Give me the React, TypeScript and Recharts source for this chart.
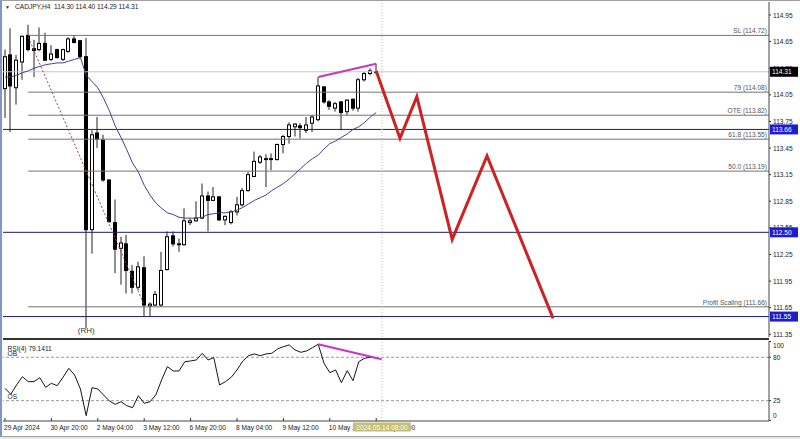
import { Bar, ComposedChart, Line, ReferenceDot, ReferenceLine, XAxis, YAxis } from "recharts";

// H4 candles, bar index 0..64
const opens = [
  114.12, 114.5, 114.13, 114.42, 114.72, 114.57, 114.56, 114.63, 114.45, 114.56,
  114.45, 114.54, 114.68, 114.66, 114.48, 112.53, 113.62, 113.54, 113.09, 112.61,
  112.32, 112.37, 112.06, 111.88, 112.1, 111.67, 111.68, 111.68, 112.08, 112.46,
  112.36, 112.36, 112.61, 112.63, 112.66, 112.91, 112.86, 112.9, 112.64, 112.61,
  112.73, 112.81, 112.97, 113.13, 113.29, 113.33, 113.32, 113.32, 113.49, 113.58,
  113.69, 113.7, 113.65, 113.73, 113.77, 114.14, 113.97, 113.9, 113.97, 113.86,
  114.0, 113.9, 114.22, 114.29, 114.3
];
const highs = [
  114.56, 114.8, 114.5, 114.72, 114.84, 114.67, 114.81, 114.75, 114.61, 114.57,
  114.57, 114.7, 114.72, 114.67, 114.69, 113.65, 113.8, 113.6, 113.1, 112.87,
  112.45, 112.47, 112.13, 112.17, 112.23, 111.71, 111.84, 112.28, 112.51, 112.51,
  112.43, 112.77, 112.66, 112.85, 113.05, 112.96, 113.01, 112.9, 112.69, 112.75,
  112.9, 113.0, 113.18, 113.41, 113.37, 113.38, 113.39, 113.5, 113.6, 113.74,
  113.73, 113.73, 113.8, 113.82, 114.25, 114.14, 113.99, 113.97, 113.98, 114.0,
  114.01, 114.24, 114.31, 114.35, 114.4
];
const lows = [
  113.79, 113.63, 113.94, 114.22, 114.54, 114.25, 114.54, 114.43, 114.43, 114.46,
  114.43, 114.52, 114.63, 114.46, 111.42, 112.26, 113.45, 113.07, 112.61, 112.04,
  111.91, 111.81, 111.81, 111.85, 111.55, 111.55, 111.67, 111.66, 112.07, 112.34,
  112.28, 112.35, 112.58, 112.62, 112.65, 112.51, 112.85, 112.63, 112.58, 112.59,
  112.69, 112.79, 112.96, 113.12, 113.27, 113.01, 113.2, 113.31, 113.39, 113.5,
  113.58, 113.56, 113.62, 113.63, 113.75, 113.95, 113.88, 113.86, 113.65, 113.82,
  113.87, 113.86, 114.2, 114.27, 114.29
];
const closes = [
  114.48, 114.15, 114.44, 114.71, 114.56, 114.55, 114.63, 114.44, 114.51, 114.47,
  114.56, 114.68, 114.64, 114.48, 112.53, 113.6, 113.55, 113.09, 112.62, 112.31,
  112.38, 112.07, 111.88, 112.11, 111.68, 111.69, 111.8, 112.07, 112.45, 112.37,
  112.37, 112.63, 112.63, 112.66, 112.91, 112.86, 112.9, 112.64, 112.68, 112.73,
  112.81, 112.97, 113.15, 113.3, 113.35, 113.32, 113.33, 113.49, 113.58, 113.71,
  113.72, 113.68, 113.71, 113.8, 114.15, 113.97, 113.92, 113.95, 113.85, 113.99,
  113.9, 114.22, 114.29, 114.32, 114.31
];
const maValues = [
  114.25, 114.25, 114.27, 114.3, 114.32, 114.35, 114.37, 114.39, 114.4, 114.41,
  114.41, 114.43, 114.45, 114.47, 114.27, 114.2, 114.13, 114.01, 113.87, 113.7,
  113.57, 113.43, 113.28, 113.18, 113.03, 112.92, 112.83, 112.77, 112.72, 112.7,
  112.67, 112.66, 112.66, 112.66, 112.67, 112.7, 112.71, 112.72, 112.72, 112.73,
  112.75, 112.78, 112.82, 112.86, 112.89, 112.92, 112.97, 113.01, 113.05, 113.1,
  113.16, 113.22, 113.28, 113.33, 113.37, 113.44, 113.5, 113.53, 113.57, 113.61,
  113.66, 113.69, 113.74, 113.8, 113.85
];
const rsiValues = [
  40.7, 33.1, 44.9, 55.4, 49.1, 49.1, 54.1, 41.9, 47.0, 44.0,
  54.6, 66.0, 57.5, 39.8, 6.0, 41.4, 39.8, 32.2, 24.6, 20.4,
  23.7, 18.6, 16.1, 31.3, 21.7, 23.7, 32.2, 51.2, 68.1, 62.6,
  62.6, 74.4, 75.3, 76.6, 85.0, 76.6, 79.5, 44.9, 49.1, 54.6,
  63.9, 75.3, 82.0, 84.2, 82.0, 84.2, 85.0, 90.5, 93.4, 95.6,
  89.2, 86.3, 88.0, 92.1, 96.4, 72.4, 60.5, 63.9, 47.8, 63.0,
  50.3, 74.4, 78.7, 80.0, 79.14
];

// projected path
const forecastIdx = [64, 68.1, 71.0, 77.1, 83.1, 94.5];
const forecastPrice = [114.32, 113.56, 114.03, 112.42, 113.36, 111.53];

const fibLevels = [114.72, 114.08, 113.82, 113.55, 113.19, 111.66];
const fibNames = ["SL (114.72)", "79 (114.08)", "OTE (113.82)", "61.8 (113.55)", "50.0 (113.19)", "Profit Scaling (111.66)"];
const blueLevels = [113.66, 112.5, 111.55];
const lastPrice = 114.31;

const priceTicks = [114.95, 114.65, 114.35, 114.05, 113.75, 113.45, 113.15, 112.85, 112.55, 112.25, 111.95, 111.65, 111.35];
const rsiTicks = [100, 80, 25, 0];
const timeTicks = [0, 8, 16, 24, 32, 40, 48, 56, 64];
const timeLabels = ["29 Apr 2024", "30 Apr 20:00", "2 May 04:00", "3 May 12:00", "6 May 20:00", "8 May 04:00", "9 May 12:00", "10 May 20:00", "14 May 04:00"];
const cursorIndex = 65;
const cursorLabel = "2024.05.14 08:00";

const xDomain: [number, number] = [-0.345, 131.72];
const priceDomain: [number, number] = [111.3198, 115.0966];
const rsiDomain: [number, number] = [-0.76, 100.6];
const fibStart = 4;

const candles = opens.map((open, i) => ({
  i,
  open,
  high: highs[i],
  low: lows[i],
  close: closes[i],
  range: [lows[i], highs[i]],
  ma: maValues[i]
}));
const rsiData = rsiValues.map((rsi, i) => ({ i, rsi }));
const forecast = forecastIdx.map((i, k) => ({ i, price: forecastPrice[k] }));

const boxColors: Record<string, string> = {
  "114.31": "#000000",
  "113.66": "#1c1cd0",
  "112.50": "#1c1cd0",
  "111.55": "#1c1cd0"
};

const fontFamily = "'Liberation Sans', Arial, sans-serif";
const fs = 6.6;

function Candle(props: any) {
  const { x, y, width, height, payload } = props;
  if (!payload || y == null || height == null) return null;
  const top = Math.min(y, y + height);
  const h = Math.abs(height);
  const span = payload.high - payload.low;
  const k = span > 0 ? h / span : 0;
  const yOf = (v: number) => top + (payload.high - v) * k;
  const cx = Math.round(x + width / 2);
  const bodyTop = yOf(Math.max(payload.open, payload.close));
  const bodyBot = yOf(Math.min(payload.open, payload.close));
  const up = payload.close >= payload.open;
  return (
    <g>
      <line x1={cx} x2={cx} y1={top} y2={top + h} stroke="#222" strokeWidth={1} />
      <rect
        x={cx - 1.5}
        y={bodyTop}
        width={3}
        height={Math.max(0.8, bodyBot - bodyTop)}
        fill={up ? "#ffffff" : "#000000"}
        stroke="#000"
        strokeWidth={1}
      />
    </g>
  );
}

function PriceTick(props: any) {
  const { x, y, payload } = props;
  const v = Number(payload.value);
  const key = v.toFixed(2);
  const bg = boxColors[key];
  if (bg) {
    return (
      <g>
        <rect x={x + 1} y={y - 5} width={28} height={10} fill={bg} />
        <text x={x + 3} y={y + 2.5} fill="#fff" fontSize={fs}>{key}</text>
      </g>
    );
  }
  return (
    <g>
      <line x1={x} x2={x + 2} y1={y} y2={y} stroke="#333" />
      <text x={x + 4} y={y + 2.5} fill="#222" fontSize={fs}>{key}</text>
    </g>
  );
}

function RsiTick(props: any) {
  const { x, y, payload } = props;
  const v = Number(payload.value);
  const cy = v === 100 ? y + 4.5 : v === 0 ? y - 4.5 : y;
  return (
    <g>
      <line x1={x} x2={x + 2} y1={y} y2={y} stroke="#333" />
      <text x={x + 4} y={cy + 2.5} fill="#222" fontSize={fs}>{v}</text>
    </g>
  );
}

function TimeTick(props: any) {
  const { x, y, payload } = props;
  const v = Number(payload.value);
  if (v === cursorIndex) {
    return (
      <g>
        <rect x={x - 29} y={y + 1.5} width={58} height={9} fill="#c6bf78" />
        <text x={x} y={y + 8.8} textAnchor="middle" fill="#fbfbf0" fontSize={fs}>{cursorLabel}</text>
      </g>
    );
  }
  const k = timeTicks.indexOf(v);
  return (
    <g>
      <line x1={x} x2={x} y1={y - 3} y2={y} stroke="#333" />
      <text x={x - 1} y={y + 8.8} fill="#222" fontSize={fs}>{timeLabels[k]}</text>
    </g>
  );
}

export default function App() {
  return (
    <div
      style={{
        position: "absolute",
        left: 0,
        top: 0,
        width: 800,
        height: 439,
        background: "#fff",
        overflow: "hidden",
        fontFamily
      }}
    >
      <div style={{ position: "absolute", left: 0, top: 0 }}>
        <ComposedChart width={800} height={339} data={candles} margin={{ top: 2, right: 0, bottom: 2, left: 3 }}>
          <XAxis dataKey="i" type="number" domain={xDomain} allowDataOverflow hide />
          <YAxis
            orientation="right"
            width={31}
            domain={priceDomain}
            allowDataOverflow
            ticks={[...priceTicks, lastPrice, ...blueLevels]}
            interval={0}
            tick={(p: any) => <PriceTick {...p} />}
            tickLine={false}
            tickSize={0}
            tickMargin={0}
            axisLine={{ stroke: "#444" }}
          />
          <ReferenceLine y={lastPrice} stroke="#c8c8c8" />
          {fibLevels.map((v, k) => (
            <ReferenceLine
              key={v}
              segment={[{ x: fibStart, y: v }, { x: xDomain[1], y: v }]}
              stroke="#747474"
              label={{ value: fibNames[k], position: "insideBottomRight", offset: 2, fontSize: fs, fill: "#555" }}
            />
          ))}
          {blueLevels.map((v) => (
            <ReferenceLine key={v} y={v} stroke="#1a1a70" />
          ))}
          <ReferenceLine x={cursorIndex} stroke="#c4bba8" strokeDasharray="1 2" />
          <ReferenceLine
            segment={[{ x: 4, y: 114.7 }, { x: 24, y: 111.68 }]}
            stroke="#9c4848"
            strokeDasharray="2 2"
          />
          <Bar dataKey="range" barSize={5} shape={(p: any) => <Candle {...p} />} isAnimationActive={false} />
          <Line dataKey="ma" stroke="#42428e" strokeWidth={1} dot={false} isAnimationActive={false} />
          <ReferenceLine
            segment={[{ x: 54, y: 114.25 }, { x: 64, y: 114.4 }]}
            stroke="#cc33cc"
            strokeWidth={2}
          />
          <Line
            data={forecast}
            dataKey="price"
            stroke="#cc2222"
            strokeWidth={3}
            dot={false}
            isAnimationActive={false}
          />
          <ReferenceDot
            x={14}
            y={111.395}
            r={0}
            fill="none"
            stroke="none"
            label={{ value: "(RH)", position: "center", fontSize: 8, fill: "#333" }}
          />
        </ComposedChart>
      </div>
      <div style={{ position: "absolute", left: 0, top: 339 }}>
        <ComposedChart width={800} height={100} data={rsiData} margin={{ top: 2, right: 0, bottom: 0, left: 3 }}>
          <XAxis
            dataKey="i"
            type="number"
            domain={xDomain}
            allowDataOverflow
            ticks={[...timeTicks, cursorIndex]}
            interval={0}
            tick={(p: any) => <TimeTick {...p} />}
            tickLine={false}
            tickSize={0}
            tickMargin={0}
            height={18}
            axisLine={{ stroke: "#444" }}
          />
          <YAxis
            orientation="right"
            width={31}
            domain={rsiDomain}
            allowDataOverflow
            ticks={rsiTicks}
            interval={0}
            tick={(p: any) => <RsiTick {...p} />}
            tickLine={false}
            tickSize={0}
            tickMargin={0}
            axisLine={{ stroke: "#444" }}
          />
          <ReferenceLine y={80} stroke="#9a9a9a" strokeDasharray="3 2" />
          <ReferenceLine y={25} stroke="#9a9a9a" strokeDasharray="3 2" />
          <ReferenceLine x={cursorIndex} stroke="#c4bba8" strokeDasharray="1 2" />
          <Line dataKey="rsi" stroke="#151515" strokeWidth={1} dot={false} isAnimationActive={false} />
          <ReferenceLine
            segment={[{ x: 54, y: 96.6 }, { x: 64.95, y: 77.4 }]}
            stroke="#cc33cc"
            strokeWidth={2}
          />
        </ComposedChart>
      </div>
      <svg
        width={800}
        height={439}
        style={{ position: "absolute", left: 0, top: 0, pointerEvents: "none" }}
      >
        <rect x={0} y={0} width={2} height={439} fill="#7d98c4" />
        <line x1={0} x2={800} y1={0.5} y2={0.5} stroke="#a0a0a0" />
        <rect x={3} y={338} width={766} height={2} fill="#333" />
        <rect x={0} y={436} width={800} height={3} fill="#e8e8e8" />
        <line x1={0} x2={800} y1={436.5} y2={436.5} stroke="#a0a0a0" />
        <text x={5} y={8.5} fontSize={5} fill="#333">▼</text>
        <text x={15} y={9} fontSize={fs} fill="#222" style={{ whiteSpace: "pre" }}>
          CADJPY,H4  114.30 114.40 114.29 114.31
        </text>
        <text x={7.5} y={350.5} fontSize={fs} fill="#222">RSI(4) 79.1411</text>
        <text x={7.5} y={355.8} fontSize={fs} fill="#222">OB</text>
        <text x={7.5} y={398.8} fontSize={fs} fill="#222">OS</text>
      </svg>
    </div>
  );
}
